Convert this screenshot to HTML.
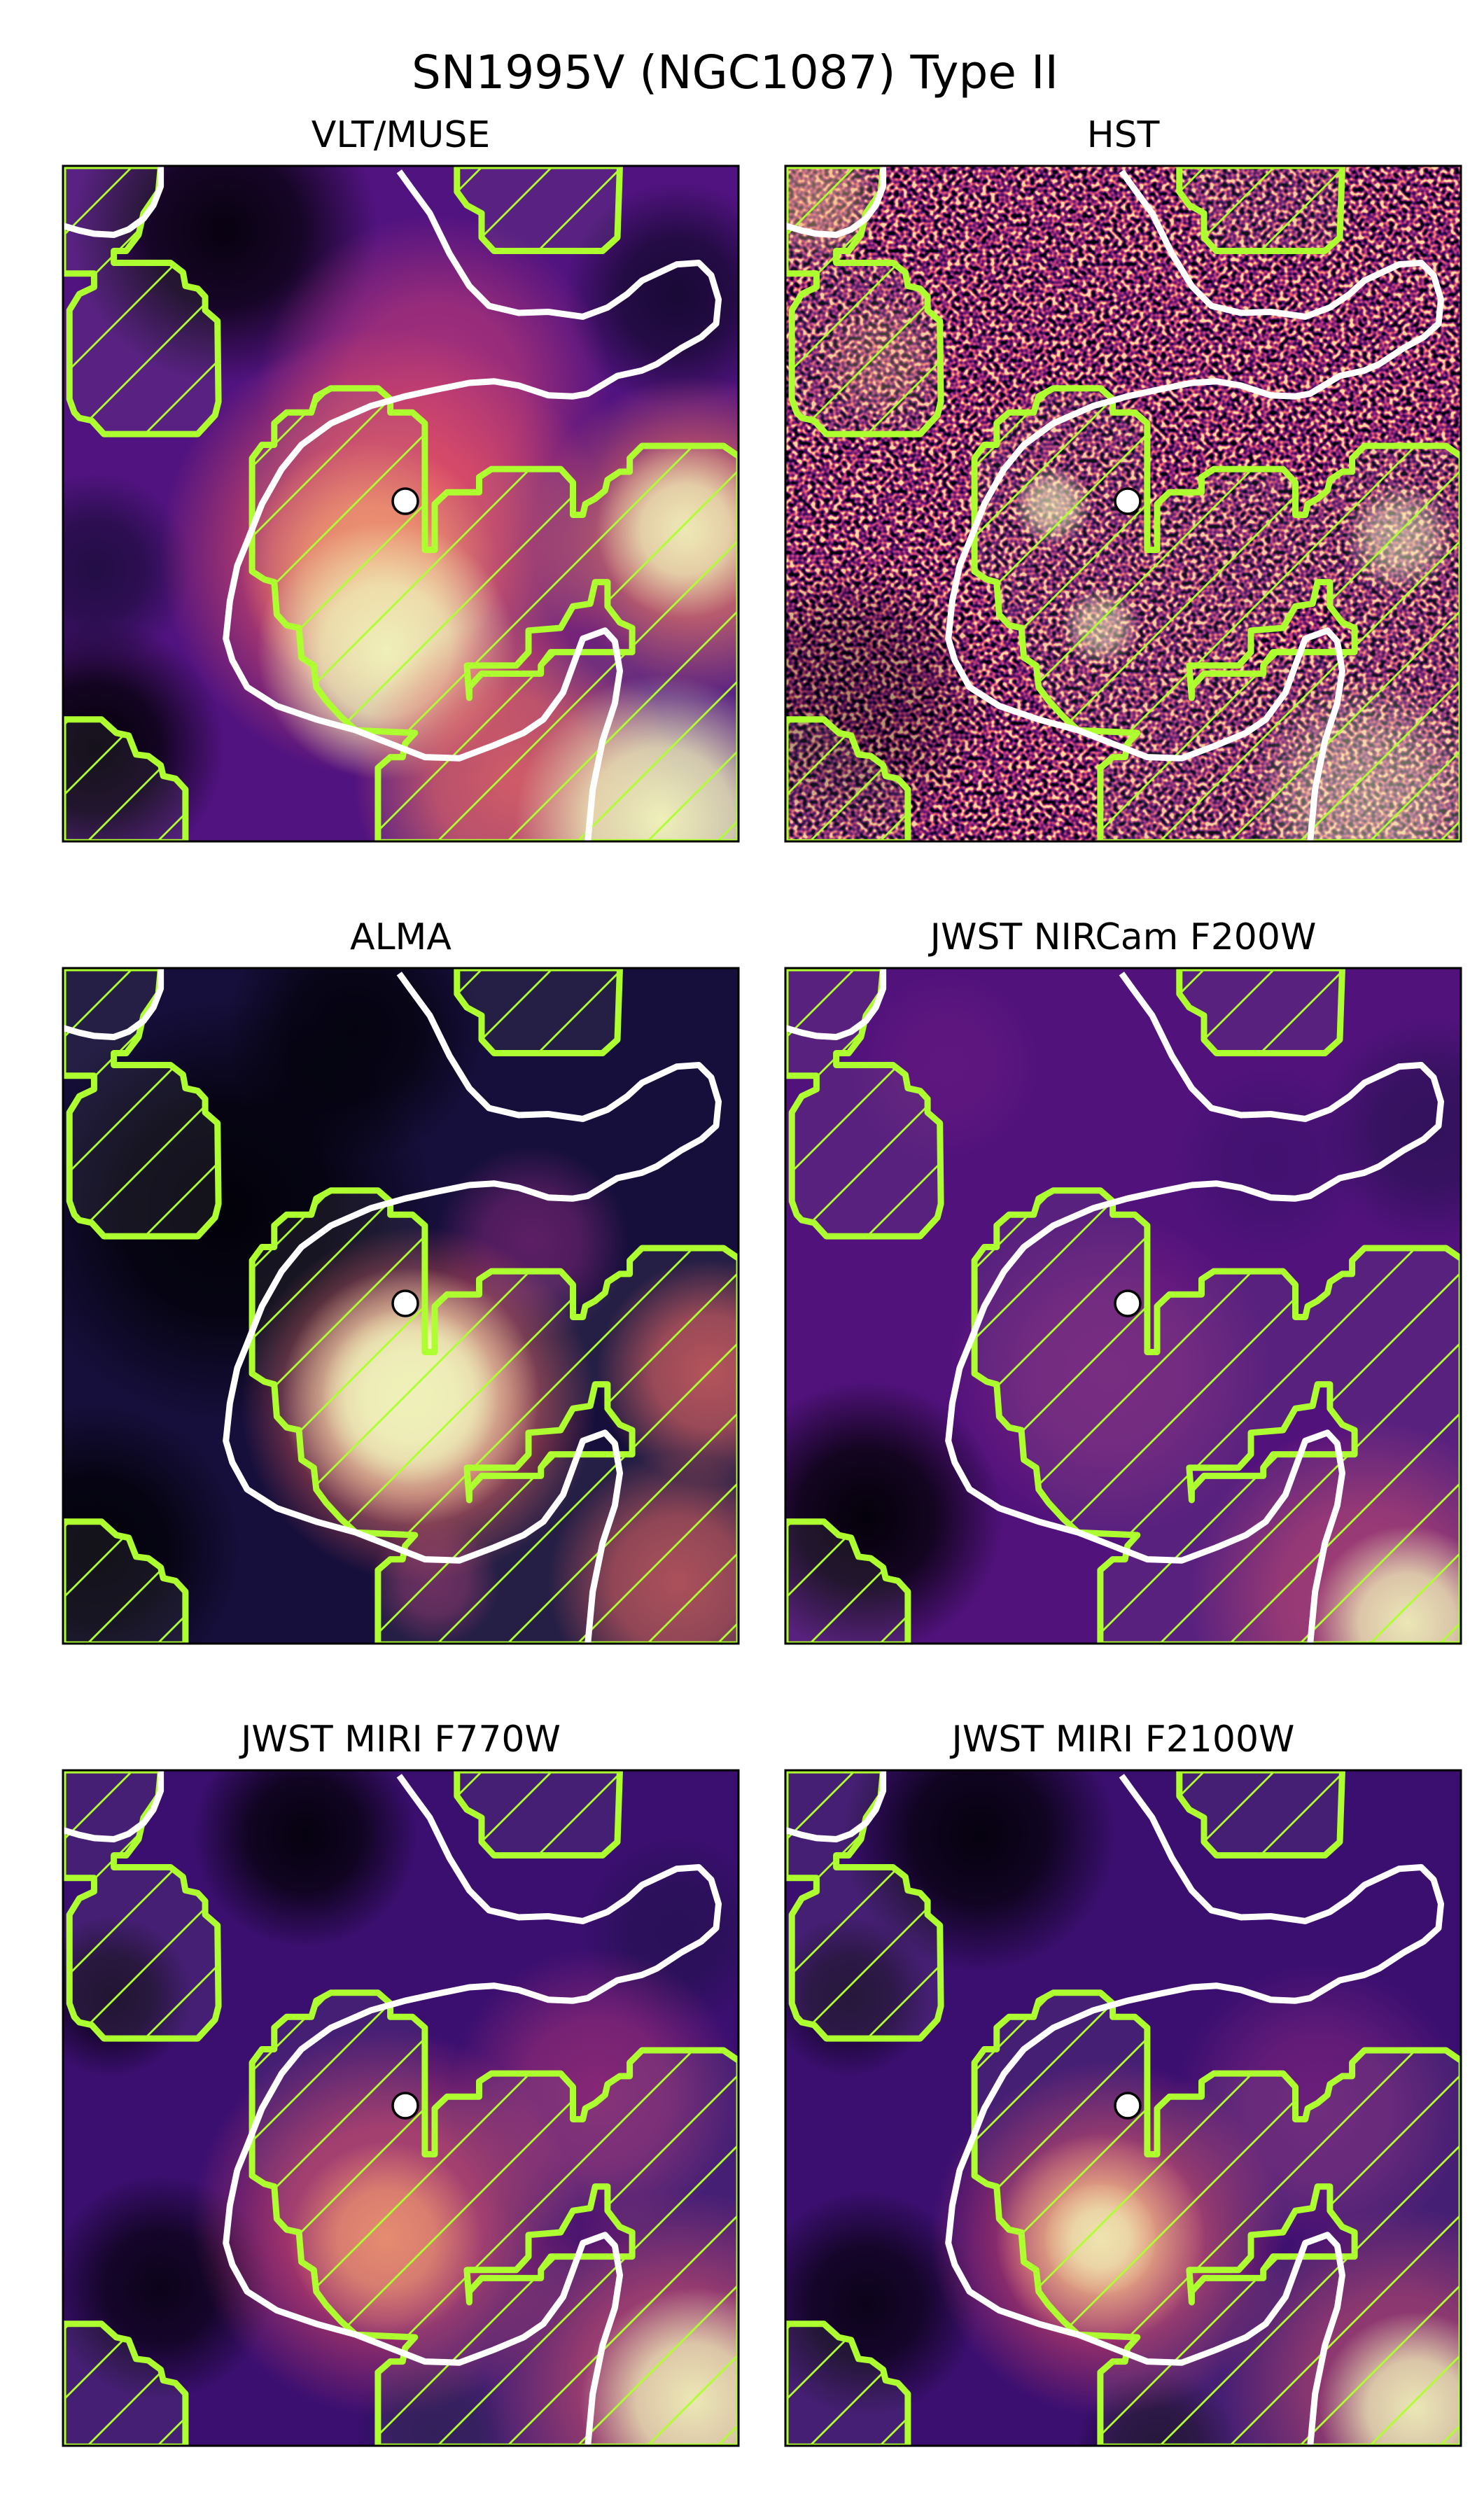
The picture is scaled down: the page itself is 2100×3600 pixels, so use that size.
<!DOCTYPE html>
<html><head><meta charset="utf-8"><style>
html,body{margin:0;padding:0;background:#fff;}
svg{display:block;}
text{font-family:"DejaVu Sans","Liberation Sans",sans-serif;fill:#000;}
</style></head><body>
<svg id="fig" width="2100" height="3600" viewBox="0 0 2100 3600" xmlns="http://www.w3.org/2000/svg">
<defs>
<pattern id="hatch" patternUnits="userSpaceOnUse" width="100" height="100">
<path d="M-10,10 L10,-10 M0,100 L100,0 M90,110 L110,90" stroke="#adff2f" stroke-width="2.8"/>
</pattern>
<filter id="noise" filterUnits="userSpaceOnUse" x="0" y="0" width="965" height="965" color-interpolation-filters="sRGB">
<feTurbulence type="fractalNoise" baseFrequency="0.16" numOctaves="1" seed="7"/>
<feColorMatrix type="matrix" values="3.0 0 0 0 -1.0  3.0 0 0 0 -1.0  3.0 0 0 0 -1.0  0 0 0 0 1"/>
<feComponentTransfer>
<feFuncR type="table" tableValues="0.0 0.18 0.42 0.68 0.92 0.99"/>
<feFuncG type="table" tableValues="0.0 0.05 0.1 0.2 0.42 0.85"/>
<feFuncB type="table" tableValues="0.02 0.3 0.45 0.48 0.4 0.65"/>
</feComponentTransfer>
</filter>
</defs>
<text x="1050" y="126" font-size="66" text-anchor="middle">SN1995V (NGC1087) Type II</text>
</svg>
<script>
const panelTitles = ["VLT/MUSE","HST","ALMA","JWST NIRCam F200W","JWST MIRI F770W","JWST MIRI F2100W"];
const panelX = [90,1122,90,1122,90,1122];
const panelY = [237,237,1383,1383,2529,2529];
const panelBase = ["#511380","#7a2a7a","#160f3b","#51127c","#3b0f70","#3b0f70"];
// blobs: [x, y, radius, color, opacity] in 418-unit panel coordinates
const blobs = [
 [[20,360,80,"#000004",0.95],[100,40,95,"#000004",0.9],[380,80,70,"#0b0724",0.8],[20,250,60,"#100b2d",0.7],[230,140,110,"#b73779",0.85],[200,240,140,"#e75263",0.95],[190,250,80,"#fe9f6d",0.9],[200,300,80,"#fcfdbf",1],[390,230,100,"#f8765c",0.8],[385,225,55,"#fcfdbf",0.95],[280,380,100,"#f1605d",0.85],[370,405,90,"#fcfdbf",1]],
 [[40,330,90,"#000004",0.35],[20,20,40,"#fec488",0.5],[60,120,40,"#fec488",0.3],[165,210,25,"#fcfdbf",0.7],[195,285,25,"#fcfdbf",0.6],[380,230,35,"#fcfdbf",0.6],[360,390,75,"#fcfdbf",0.5]],
 [[100,150,130,"#000004",0.9],[20,360,90,"#000004",0.9],[180,40,80,"#000004",0.8],[290,170,60,"#8c2981",0.6],[400,250,70,"#f1605d",0.75],[380,380,80,"#f1605d",0.7],[230,380,40,"#b73779",0.5],[220,270,110,"#f1605d",0.9],[215,265,80,"#fcfdbf",1],[215,265,55,"#fcfdbf",1]],
 [[50,340,85,"#000004",0.95],[400,100,70,"#1d1147",0.6],[300,120,60,"#2c115f",0.4],[100,60,60,"#711f81",0.4],[200,250,100,"#8c2981",0.6],[360,390,110,"#de4968",0.6],[385,405,60,"#fcfdbf",0.95]],
 [[150,40,70,"#000004",0.9],[30,140,50,"#000004",0.7],[60,320,70,"#000004",0.8],[230,410,50,"#1d1147",0.7],[380,100,60,"#1d1147",0.6],[330,200,90,"#b73779",0.6],[200,280,120,"#de4968",0.8],[200,290,60,"#fe9f6d",0.8],[380,380,120,"#de4968",0.7],[390,390,70,"#fcfdbf",0.95]],
 [[120,40,85,"#000004",0.9],[40,140,50,"#000004",0.6],[50,330,70,"#000004",0.8],[230,420,50,"#000004",0.6],[330,210,90,"#8c2981",0.6],[200,290,110,"#de4968",0.8],[195,290,65,"#fec287",0.9],[195,290,35,"#fcfdbf",0.8],[380,380,110,"#de4968",0.6],[390,395,60,"#fcfdbf",0.95]]
];
const whiteMain = [[808,182],[830,210],[870,260],[910,335],[950,395],[990,432],[1050,445],[1110,443],[1180,452],[1230,435],[1270,410],[1300,385],[1370,355],[1415,352],[1440,375],[1455,420],[1450,465],[1420,490],[1380,510],[1330,540],[1300,552],[1250,562],[1190,595],[1160,600],[1110,598],[1050,580],[1000,572],[950,575],[880,588],[820,600],[750,618],[670,650],[610,690],[570,735],[530,800],[500,870],[480,915],[465,980],[457,1050],[470,1090],[500,1140],[560,1175],[640,1200],[720,1220],[790,1245],[860,1270],[930,1272],[1000,1248],[1060,1225],[1100,1200],[1140,1150],[1180,1050],[1225,1035],[1245,1055],[1255,1110],[1245,1170],[1220,1240],[1200,1330],[1190,1428]];
const whiteSmall = [[325,172],[325,210],[310,245],[290,270],[260,290],[230,300],[190,298],[160,292],[127,283]];
const maskTop = [[925,172],[925,220],[945,245],[975,260],[975,305],[1000,330],[1220,330],[1250,305],[1255,172]];
const maskLeft = [[127,172],[325,172],[320,220],[290,260],[280,300],[255,330],[230,330],[230,352],[345,352],[370,370],[375,395],[400,400],[415,415],[415,440],[440,460],[442,610],[435,635],[400,670],[210,670],[185,645],[160,640],[150,630],[140,605],[140,440],[160,410],[190,397],[190,372],[127,372]];
const maskCenter = [[510,715],[530,690],[555,690],[555,650],[580,630],[630,630],[640,600],[670,585],[765,585],[790,605],[790,630],[835,630],[860,650],[860,885],[880,885],[880,800],[905,778],[970,778],[970,750],[995,735],[1135,735],[1160,760],[1160,820],[1180,820],[1185,800],[1205,790],[1225,775],[1230,755],[1255,740],[1275,740],[1275,715],[1300,692],[1465,692],[1497,712],[1497,1428],[765,1428],[765,1290],[790,1270],[815,1270],[820,1245],[840,1225],[720,1220],[690,1195],[660,1165],[640,1140],[635,1100],[610,1085],[605,1030],[580,1025],[560,1005],[555,945],[535,940],[510,925]];
const maskHole = [[1070,1035],[1135,1030],[1160,990],[1195,985],[1205,945],[1230,945],[1230,990],[1255,1020],[1280,1030],[1280,1075],[1115,1075],[1095,1100],[1095,1115],[975,1115],[950,1140],[950,1160],[945,1100],[1045,1100],[1070,1075]];
const maskBottomLeft = [[127,1200],[205,1200],[235,1225],[260,1230],[275,1265],[300,1268],[325,1285],[330,1305],[355,1310],[375,1330],[375,1428],[127,1428]];
const snPos = [489,479];

const NS = "http://www.w3.org/2000/svg";
const svg = document.getElementById("fig");
const S = 965/418;
function toPx(p){ return [(p[0]-127)/1.418, (p[1]-172)/1.3]; }
function pts(a){ return a.map(p=>{const q=toPx(p);return q[0].toFixed(1)+","+q[1].toFixed(1);}).join(" "); }
function pathD(a,close){ return a.map((p,i)=>{const q=toPx(p);return (i?"L":"M")+q[0].toFixed(1)+","+q[1].toFixed(1);}).join("")+(close?"Z":""); }
function mk(tag,attrs,parent){ const e=document.createElementNS(NS,tag); for(const k in attrs) e.setAttribute(k,attrs[k]); parent.appendChild(e); return e; }

const defs = svg.querySelector("defs");
panelTitles.forEach((title,i)=>{
  const px=panelX[i], py=panelY[i];
  const t = mk("text",{x:px+482.5,y:py-27,"font-size":52,"text-anchor":"middle"},svg);
  t.textContent = title;
  
  
  const cp = mk("clipPath",{id:"clip"+i},defs);
  mk("rect",{x:0,y:0,width:965,height:965},cp);
  const g = mk("g",{transform:`translate(${px},${py})`,"clip-path":`url(#clip${i})`},svg);
  
  
  mk("rect",{x:0,y:0,width:965,height:965,fill:panelBase[i]},g);
  if(i===1){
    const n = mk("rect",{x:0,y:0,width:965,height:965,fill:"#000",filter:"url(#noise)"},g);
    
    
  }
  blobs[i].forEach((b,j)=>{
    const id=`g${i}_${j}`;
    const rg = mk("radialGradient",{id:id},defs);
    mk("stop",{offset:"0","stop-color":b[3],"stop-opacity":b[4]},rg);
    mk("stop",{offset:"0.5","stop-color":b[3],"stop-opacity":b[4]*0.8},rg);
    mk("stop",{offset:"1","stop-color":b[3],"stop-opacity":0},rg);
    const c = mk("circle",{cx:b[0]*S,cy:b[1]*S,r:b[2]*S,fill:`url(#${id})`},g);
    
    
  });
  const masks = [maskTop,maskLeft,maskBottomLeft];
  masks.forEach(m=>{
    const p = mk("polygon",{points:pts(m),fill:"rgba(150,150,150,0.12)"},g);
    
    
    mk("polygon",{points:pts(m),fill:"url(#hatch)"},g);
    mk("polygon",{points:pts(m),fill:"none",stroke:"#adff2f","stroke-width":9,"stroke-linejoin":"round"},g);
  });
  const dC = pathD(maskCenter,true)+pathD(maskHole,true);
  const pc = mk("path",{d:dC,"fill-rule":"evenodd",fill:"rgba(150,150,150,0.12)"},g);
  
  
  mk("path",{d:dC,"fill-rule":"evenodd",fill:"url(#hatch)"},g);
  mk("path",{d:dC,fill:"none",stroke:"#adff2f","stroke-width":9,"stroke-linejoin":"round"},g);
  [whiteMain,whiteSmall].forEach(w=>{
    const l = mk("path",{d:pathD(w,false),fill:"none",stroke:"#fff","stroke-width":9,"stroke-linejoin":"round"},g);
    
    
  });
  const sn = mk("circle",{cx:snPos[0],cy:snPos[1],r:18,fill:"#fff",stroke:"#000","stroke-width":3.5},g);
  
  
  const br = mk("rect",{x:px,y:py,width:965,height:965,fill:"none",stroke:"#000","stroke-width":3},svg);
  
  
});
</script>
</body></html>
